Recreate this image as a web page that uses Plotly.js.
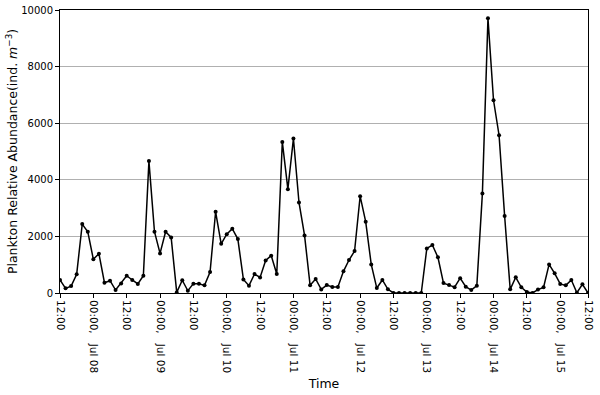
<!DOCTYPE html>
<html>
<head>
<meta charset="utf-8">
<script src="https://cdn.plot.ly/plotly-3.0.1.min.js"></script>
<style>html,body{margin:0;padding:0;background:#fff;}#chart{width:600px;height:395px;}</style>
</head>
<body>
<div id="chart"></div>
<script>
// Sampling: every 2 hours starting 2014-07-07 12:00
const startTime = "2014-07-07T12:00:00";
const stepHours = 2;

// Plankton relative abundance (ind. m^-3)
const abundance = [
  460, 165, 245, 660, 2435, 2165, 1190, 1390, 365, 435, 105, 340,
  610, 460, 320, 610, 4660, 2165, 1400, 2165, 1965, 20, 450, 80,
  330, 330, 270, 740, 2870, 1740, 2080, 2270, 1905, 480, 260, 670,
  550, 1150, 1320, 670, 5340, 3670, 5460, 3200, 2035, 270, 495, 125,
  280, 210, 210, 765, 1165, 1480, 3420, 2520, 1010, 175, 460, 130,
  0, 0, 0, 0, 0, 0, 1575, 1695, 1260, 350, 280, 205,
  525, 225, 105, 260, 3520, 9705, 6810, 5575, 2720, 130, 555, 200,
  35, 0, 120, 200, 1010, 695, 320, 270, 460, 10, 305, 0
];

// y-axis ticks
const yTickValues = [0, 2000, 4000, 6000, 8000, 10000];
const yTickLabels = ["0", "2000", "4000", "6000", "8000", "10000"];

// x-axis ticks
const tickTimes = [
  "2014-07-07 12:00", "2014-07-08 00:00", "2014-07-08 12:00", "2014-07-09 00:00",
  "2014-07-09 12:00", "2014-07-10 00:00", "2014-07-10 12:00", "2014-07-11 00:00",
  "2014-07-11 12:00", "2014-07-12 00:00", "2014-07-12 12:00", "2014-07-13 00:00",
  "2014-07-13 12:00", "2014-07-14 00:00", "2014-07-14 12:00", "2014-07-15 00:00",
  "2014-07-15 10:00"
];
const sp = "\u00a0\u00a0\u00a0";
const tickLabels = [
  "12:00", "00:00," + sp + "Jul 08", "12:00", "00:00," + sp + "Jul 09",
  "12:00", "00:00," + sp + "Jul 10", "12:00", "00:00," + sp + "Jul 11",
  "12:00", "00:00," + sp + "Jul 12", "12:00", "00:00," + sp + "Jul 13",
  "12:00", "00:00," + sp + "Jul 14", "12:00", "00:00," + sp + "Jul 15",
  "12:00"
];

function pad(n){return (n<10?"0":"")+n;}
const t0 = new Date(startTime + "Z").getTime();
const times = abundance.map((_, i) => {
  const d = new Date(t0 + i * stepHours * 3600 * 1000);
  return d.getUTCFullYear() + "-" + pad(d.getUTCMonth()+1) + "-" + pad(d.getUTCDate()) +
    " " + pad(d.getUTCHours()) + ":" + pad(d.getUTCMinutes());
});

const font = "DejaVu Sans, sans-serif";
const trace = {
  x: times, y: abundance, type: "scatter", mode: "lines+markers",
  line: {color: "#000", width: 1.5},
  marker: {color: "#000", size: 4},
  hoverinfo: "x+y"
};

const layout = {
  width: 600, height: 395,
  margin: {l: 60, r: 12, t: 10, b: 102},
  paper_bgcolor: "#fff", plot_bgcolor: "#fff",
  showlegend: false,
  font: {family: font, color: "#000"},
  xaxis: {
    type: "date",
    range: [tickTimes[0], tickTimes[tickTimes.length - 1]],
    tickvals: tickTimes, ticktext: tickLabels,
    tickangle: 90,
    tickfont: {family: font, size: 10.5, color: "#000"},
    ticks: "outside", ticklen: 4, tickcolor: "#000",
    showline: true, linecolor: "#000", linewidth: 1, mirror: true,
    showgrid: false, zeroline: false,
    automargin: false,
    title: {text: "Time", font: {family: font, size: 12.5, color: "#000"}, standoff: 6}
  },
  yaxis: {
    range: [0, 10000],
    tickvals: yTickValues, ticktext: yTickLabels,
    tickfont: {family: font, size: 10, color: "#000"},
    ticks: "outside", ticklen: 4, tickcolor: "#000",
    showline: true, linecolor: "#000", linewidth: 1, mirror: true,
    showgrid: true, gridcolor: "#b0b0b0", gridwidth: 1,
    zeroline: false, automargin: false,
    title: {text: "Plankton Relative Abundance(ind. <i>m</i><sup>−3</sup>)",
            font: {family: font, size: 12.5, color: "#000"}, standoff: 0}
  }
};

Plotly.newPlot("chart", [trace], layout, {displayModeBar: false, staticPlot: true});
</script>
</body>
</html>
